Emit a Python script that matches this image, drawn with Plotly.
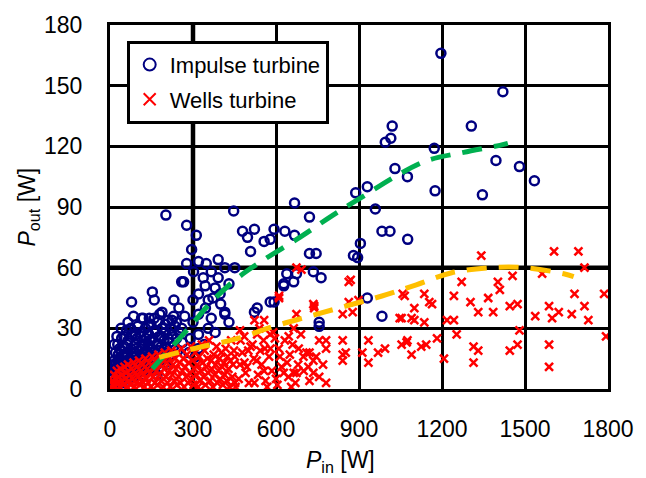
import plotly.graph_objects as go

# ---- Impulse turbine samples: (P_in [W], P_out [W]) ----
impulse_sparse = [
    (1196, 166), (1420, 147), (1306, 130), (1020, 130), (1015, 124), (995, 122),
    (1172, 119), (1395, 113), (1480, 110), (1534, 103), (1346, 96), (1175, 98),
    (1030, 109), (1075, 105), (930, 100), (888, 97), (959, 89), (983, 78),
    (1012, 78), (1076, 74), (905, 72), (895, 65), (983, 36), (930, 45),
    (667, 92), (447, 88), (721, 85), (277, 81), (312, 76), (479, 78), (522, 79),
    (497, 75), (593, 79), (632, 78), (579, 74), (557, 73), (508, 68), (667, 76),
    (295, 69), (721, 67), (745, 67), (639, 57), (664, 53), (763, 55), (735, 58),
    (628, 51), (532, 40), (202, 86), (259, 53), (153, 48), (160, 44), (78, 43),
    (231, 44), (114, 35), (142, 35), (188, 38), (522, 38), (415, 38), (579, 43),
    (628, 52), (674, 57), (756, 33), (880, 66), (593, 43), (756, 31),
]
impulse_mid = [
    (320, 63), (348, 62), (391, 64), (415, 60), (451, 60), (366, 58), (337, 55),
    (391, 55), (344, 51), (380, 50), (320, 47), (355, 44), (277, 62), (302, 58),
    (266, 53), (249, 40), (224, 34), (259, 30), (320, 37), (366, 35), (415, 37),
    (320, 27), (355, 30), (320, 20), (309, 16), (290, 25), (340, 22), (380, 28),
    (400, 42), (430, 33), (270, 36), (300, 44), (345, 40), (285, 18), (372, 45),
    (430, 52), (300, 33), (262, 23), (398, 47),
]
impulse_dense = [
    (5, 2), (10, 5), (12, 9), (15, 14), (18, 3), (20, 18), (22, 7), (25, 11), (28, 22), (30, 4),
    (32, 15), (35, 8), (38, 19), (40, 12), (42, 25), (45, 6), (48, 16), (50, 10), (52, 21), (55, 3),
    (58, 13), (60, 18), (62, 8), (65, 24), (68, 11), (70, 15), (72, 5), (75, 20), (78, 27), (80, 9),
    (82, 14), (85, 18), (88, 6), (90, 22), (92, 11), (95, 16), (98, 25), (100, 8), (102, 13), (105, 19),
    (108, 28), (110, 10), (112, 15), (115, 21), (118, 7), (120, 17), (122, 24), (125, 12), (128, 30), (130, 9),
    (132, 19), (135, 14), (138, 22), (140, 27), (142, 11), (145, 17), (148, 32), (150, 20), (152, 13), (155, 25),
    (158, 9), (160, 18), (162, 29), (165, 15), (168, 22), (170, 12), (172, 33), (175, 19), (178, 26), (180, 14),
    (185, 21), (188, 30), (190, 17), (195, 24), (198, 13), (200, 28), (205, 20), (210, 34), (215, 23), (220, 17),
    (225, 27), (230, 21), (235, 31), (240, 25), (245, 19), (250, 28), (40, 30), (60, 29), (25, 26), (15, 22),
    (8, 12), (3, 7), (65, 33), (100, 31), (120, 35), (180, 37), (85, 36), (230, 36), (205, 12), (170, 7),
    (18, 10), (28, 14), (35, 20), (45, 12), (55, 17), (62, 22), (70, 10), (78, 18), (88, 13), (95, 20),
    (105, 9), (115, 16), (125, 22), (135, 18), (145, 24), (155, 15), (165, 28), (175, 22), (185, 26), (195, 18),
    (210, 25), (220, 30), (50, 26), (75, 30), (110, 26), (140, 31), (30, 17), (20, 12), (48, 4), (60, 12),
    (92, 27), (130, 25), (160, 35), (200, 32), (240, 33),
]

# ---- Wells turbine samples: (P_in [W], P_out [W]) ----
wells_sparse = [
    (1342, 66), (1605, 68), (1693, 68), (1715, 60), (1455, 56), (1271, 53), (1562, 57),
    (1402, 53), (1409, 49), (1136, 47), (1154, 43), (1058, 47), (1243, 46), (1303, 43),
    (1367, 45), (1679, 47), (1786, 47), (1100, 40), (1164, 42), (1331, 38), (1385, 38),
    (1445, 41), (1473, 42), (1587, 41), (1622, 38), (1715, 41), (1537, 36), (1669, 37),
    (1729, 34), (1598, 35), (1054, 35), (1100, 34), (1136, 33), (1218, 34), (1243, 34),
    (1072, 23), (1125, 21), (1143, 22), (1090, 17), (1182, 25), (1207, 15), (1253, 27),
    (1314, 21), (1314, 13), (1331, 19), (1480, 29), (1473, 22), (1445, 19), (1587, 22),
    (1587, 11), (1793, 26), (1065, 46), (1047, 35), (1090, 35), (1054, 22), (1075, 24),
    (994, 20), (969, 18), (934, 24), (912, 18), (934, 13), (841, 24), (852, 18), (841, 14),
    (877, 38), (863, 43), (898, 44), (738, 41), (756, 24), (781, 20), (745, 16), (770, 12),
    (735, 8), (781, 3), (674, 60), (692, 59), (863, 53), (611, 45), (738, 40), (557, 34),
    (522, 34), (841, 37), (841, 17), (781, 24), (710, 18), (735, 14), (674, 8), (721, 4),
    (870, 54), (611, 46), (735, 42), (451, 16), (486, 13), (543, 19), (579, 27), (646, 26),
    (664, 30), (682, 20), (699, 16), (664, 8), (557, 9), (522, 3), (454, 1), (568, 1),
    (614, 16), (628, 8), (721, 18), (717, 11), (756, 6), (674, 37), (596, 25), (508, 21),
    (472, 24), (532, 27), (490, 8), (600, 5), (640, 13), (530, 14), (580, 20), (470, 29),
]
wells_mid = [
    (465, 5), (478, 18), (485, 26), (495, 11), (502, 3), (515, 22), (520, 15), (535, 7), (540, 30), (548, 12),
    (555, 24), (562, 4), (575, 16), (585, 9), (590, 28), (605, 2), (610, 20), (620, 11), (632, 24), (645, 6),
    (650, 17), (660, 22), (670, 3), (680, 12), (690, 27), (700, 9), (470, 12), (500, 19), (560, 20), (655, 1),
]
wells_dense = [
    (3, 1), (8, 4), (12, 2), (15, 7), (18, 1), (22, 5), (25, 9), (28, 3), (32, 6), (35, 1),
    (38, 10), (42, 4), (45, 7), (48, 2), (52, 11), (55, 5), (58, 8), (62, 1), (65, 12), (68, 4),
    (72, 7), (75, 2), (78, 10), (82, 5), (85, 13), (88, 1), (92, 8), (95, 3), (98, 11), (102, 6),
    (105, 14), (108, 2), (112, 9), (115, 4), (118, 12), (122, 7), (125, 1), (128, 15), (132, 5), (135, 10),
    (138, 3), (142, 13), (145, 8), (148, 1), (152, 16), (155, 6), (158, 11), (162, 3), (165, 14), (168, 9),
    (172, 2), (175, 17), (178, 7), (182, 12), (185, 4), (188, 15), (192, 1), (195, 10), (198, 18), (202, 6),
    (205, 13), (208, 3), (212, 16), (215, 9), (218, 1), (222, 19), (225, 7), (228, 12), (232, 4), (235, 15),
    (238, 10), (242, 2), (245, 18), (248, 6), (252, 13), (255, 3), (258, 20), (262, 9), (265, 15), (268, 1),
    (272, 11), (275, 6), (278, 17), (282, 3), (285, 13), (288, 8), (292, 21), (295, 5), (298, 14), (302, 2),
    (305, 10), (308, 18), (312, 7), (315, 12), (318, 1), (322, 16), (325, 4), (328, 9), (332, 22), (335, 13),
    (338, 6), (342, 19), (345, 2), (348, 11), (352, 15), (355, 8), (358, 24), (362, 4), (365, 14), (368, 10),
    (372, 1), (375, 17), (378, 7), (382, 12), (385, 21), (388, 3), (392, 9), (395, 15), (398, 5), (402, 18),
    (405, 11), (408, 2), (412, 13), (415, 7), (418, 20), (422, 4), (425, 16), (428, 10), (432, 1), (435, 14),
    (438, 24), (442, 6), (445, 12), (448, 19), (452, 3),
]

# ---- Fitted trend curves ----
impulse_fit_x = [153, 202, 284, 366, 462, 557, 686, 806, 912, 1030, 1147, 1278, 1409, 1438]
impulse_fit_y = [10, 17.5, 30, 43, 55, 64, 75, 86, 95, 105, 113, 117, 120.5, 121.5]
wells_fit_x = [178, 320, 462, 593, 721, 852, 983, 1107, 1235, 1374, 1502, 1640, 1676]
wells_fit_y = [15.6, 20.5, 25, 31, 36, 41, 46, 51.5, 57.5, 60, 60, 57, 55.6]

x_ticks = [0, 300, 600, 900, 1200, 1500, 1800]
y_ticks = [0, 30, 60, 90, 120, 150, 180]

FONT = "Liberation Sans, Arial, sans-serif"
NAVY = "#000080"
RED = "#ff0000"

impulse = impulse_dense + impulse_mid + impulse_sparse
wells = wells_dense + wells_mid + wells_sparse

fig = go.Figure()

fig.add_trace(go.Scatter(
    x=[p[0] for p in impulse], y=[p[1] for p in impulse],
    mode="markers", name="Impulse turbine", legendgroup="impulse",
    marker=dict(symbol="circle-open", size=9, color=NAVY, line=dict(width=2.5, color=NAVY)),
))
fig.add_trace(go.Scatter(
    x=[p[0] for p in wells], y=[p[1] for p in wells],
    mode="markers", name="Wells turbine", legendgroup="wells",
    marker=dict(symbol="x-thin-open", size=8, color=RED, line=dict(width=2.5, color=RED)),
))
fig.add_trace(go.Scatter(
    x=impulse_fit_x, y=impulse_fit_y, mode="lines", showlegend=False,
    line=dict(color="#00b050", width=5, dash="20px,12px", shape="spline"),
))
fig.add_trace(go.Scatter(
    x=wells_fit_x, y=wells_fit_y, mode="lines", showlegend=False,
    line=dict(color="#ffc000", width=5, dash="20px,12px", shape="spline"),
))

# heavier reference lines at P_in = 300 W and P_out = 60 W
fig.add_shape(type="line", xref="x", yref="paper", x0=300, x1=300, y0=0, y1=1,
              line=dict(color="black", width=4.5), layer="below")
fig.add_shape(type="line", xref="paper", yref="y", x0=0, x1=1, y0=60, y1=60,
              line=dict(color="black", width=4.5), layer="below")

axis_common = dict(
    showgrid=True, gridcolor="black", gridwidth=2.5,
    showline=True, linecolor="black", linewidth=3, mirror=True,
    zeroline=False, ticks="",
    tickfont=dict(family=FONT, size=23, color="black"),
)
fig.update_xaxes(range=[0, 1800], tickvals=x_ticks, ticklabelstandoff=17, **axis_common)
fig.update_yaxes(range=[0, 180], tickvals=y_ticks, ticklabelstandoff=20, **axis_common)

fig.add_annotation(
    text="<i>P</i><sub>in</sub> [W]", xref="paper", yref="paper",
    x=(345 - 110) / 507, y=-(462 - 389) / 369, showarrow=False,
    font=dict(family=FONT, size=23, color="black"), xanchor="center", yanchor="middle",
)
fig.add_annotation(
    text="<i>P</i><sub>out</sub> [W]", xref="paper", yref="paper",
    x=-(110 - 27) / 507, y=0.5, showarrow=False, textangle=-90,
    font=dict(family=FONT, size=23, color="black"), xanchor="center", yanchor="middle",
)

fig.update_layout(
    width=646, height=478,
    margin=dict(l=110, r=29, t=20, b=89),
    paper_bgcolor="white", plot_bgcolor="white",
    legend=dict(
        x=(127 - 110) / 507, y=(389 - 36) / 369, xanchor="left", yanchor="top",
        bgcolor="white", bordercolor="black", borderwidth=3,
        font=dict(family=FONT, size=22, color="black"),
        itemsizing="constant", tracegroupgap=3,
    ),
)

fig.write_html("out.html")
